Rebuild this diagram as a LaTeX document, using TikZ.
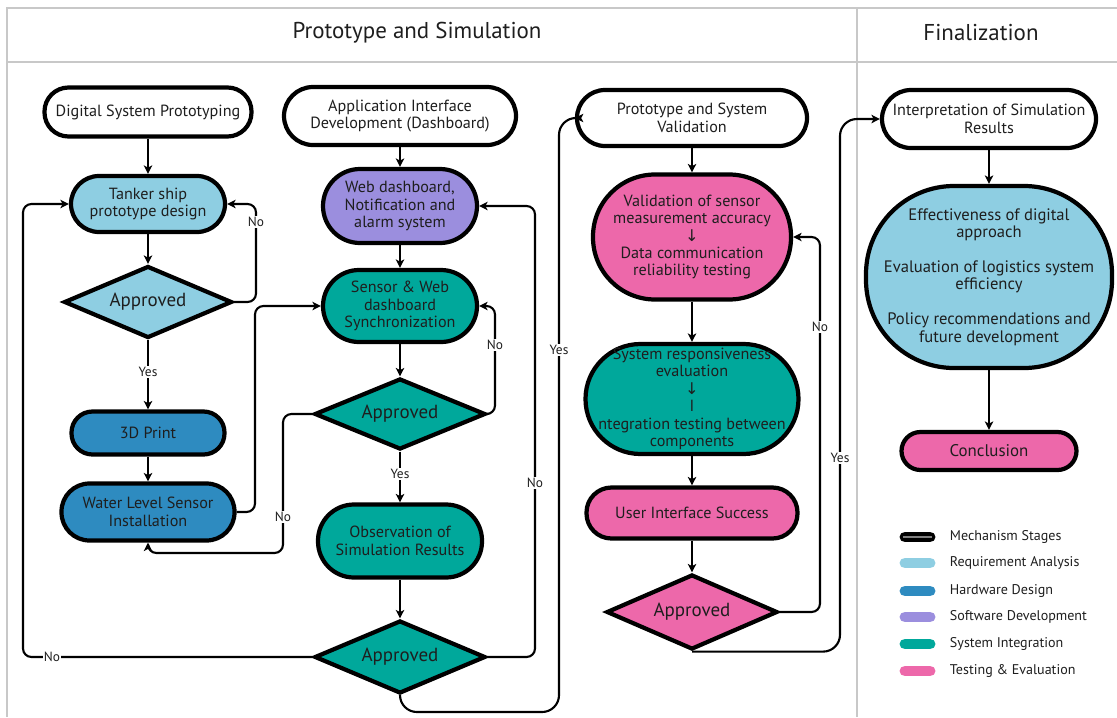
\documentclass[tikz,border=0pt]{standalone}
\usepackage{fontspec}
\setmainfont{PT Sans}
\newfontfamily\arrowfont{DejaVu Sans}
\usetikzlibrary{arrows.meta,shapes.geometric}

\definecolor{reqblue}{RGB}{142,206,226}
\definecolor{hwblue}{RGB}{46,139,192}
\definecolor{swpurple}{RGB}{155,142,222}
\definecolor{systeal}{RGB}{0,168,155}
\definecolor{testpink}{RGB}{237,104,170}
\definecolor{framegray}{RGB}{200,200,200}
\definecolor{ink}{RGB}{30,30,30}

\newcommand{\stagefont}{\fontsize{11.5}{12.4}\selectfont}
\newcommand{\decfont}{\fontsize{13.5}{15}\selectfont}
\newcommand{\tagfont}{\fontsize{9.5}{11}\selectfont}
\newcommand{\legfont}{\fontsize{10}{11}\selectfont}
\newcommand{\headfont}{\fontsize{16.3}{18}\selectfont}
\newcommand{\darr}{{\arrowfont ↓}}

\begin{document}
\begin{tikzpicture}[x=0.025cm,y=-0.025cm,
    stage/.style n args={3}{draw=black,line width=3pt,text=ink,font=\stagefont,
        align=center,inner sep=0pt,minimum width=#1*0.025cm,
        minimum height=#2*0.025cm,rounded corners=#3*0.025cm},
    decide/.style 2 args={draw=black,line width=3pt,diamond,aspect=2.4,text=ink,
        font=\decfont,inner sep=0pt,minimum width=#1*0.025cm,minimum height=#2*0.025cm},
    flow/.style={line width=1.5pt,rounded corners=6pt,
        -{Stealth[length=6pt,width=6pt,inset=1.5pt]}},
    tag/.style={fill=white,inner sep=1pt,text=ink,font=\tagfont}]
\useasboundingbox (0,0) rectangle (1117,717);

% frame and headings
\draw[framegray,line width=1.4pt] (1117,8) -- (7,8) -- (7,717);
\draw[framegray,line width=1.4pt] (7,62) -- (1117,62);
\draw[framegray,line width=1.4pt] (857,8) -- (857,717);
\node[text=ink,font=\headfont] (hdproto) at (417,33) {Prototype and Simulation};
\node[text=ink,font=\headfont] (hdfinal) at (981,33) {Finalization};

% digital system prototyping
\node[stage={207}{49}{24},fill=white] (dsp) at (148,112) {Digital System Prototyping};
\node[stage={154}{56}{28},fill=reqblue] (tank) at (148,204) {Tanker ship\\prototype design};
\node[decide={168}{72},fill=reqblue] (ap1) at (148,302) {Approved};
\node[stage={153}{43}{21},fill=hwblue] (print) at (148,433) {3D Print};
\node[stage={173}{57}{28},fill=hwblue] (water) at (148,512) {Water Level Sensor\\Installation};

% application interface
\node[stage={232}{58}{29},fill=white] (aid) at (400,116) {Application Interface\\Development (Dashboard)};
\node[stage={154}{74}{37},fill=swpurple] (web) at (400,206) {Web dashboard,\\Notification and\\alarm system};
\node[stage={154}{72}{36},fill=systeal] (sync) at (400,306) {Sensor \& Web\\dashboard\\Synchronization};
\node[decide={171}{71},fill=systeal] (ap2) at (400,414) {Approved};
\node[stage={164}{73}{36},fill=systeal] (obs) at (400,541) {Observation of\\Simulation Results};
\node[decide={171}{73},fill=systeal] (ap3) at (400,657) {Approved};

% validation
\node[stage={230}{56}{28},fill=white] (psv) at (692,118) {Prototype and System\\Validation};
\node[stage={198}{125}{62},fill=testpink] (valid) at (692,237) {Validation of sensor\\measurement accuracy\\\darr\\Data communication\\reliability testing};
\node[stage={213}{110}{55},fill=systeal] (sysr) at (692,399) {System responsiveness\\evaluation\\\darr\\I\\ntegration testing between\\components};
\node[stage={211}{51}{25},fill=testpink] (uis) at (692,513) {User Interface Success};
\node[decide={171}{75},fill=testpink] (ap4) at (692,612) {Approved};

% finalization
\node[stage={214}{58}{29},fill=white] (isr) at (989,119) {Interpretation of Simulation\\Results};
\node[stage={246}{182}{88},fill=reqblue,font=\fontsize{11.8}{12.4}\selectfont] (big) at (989,277)
    {Effectiveness of digital\\approach\\[12.5pt]Evaluation of logistics system\\efficiency\\[12.5pt]Policy recommendations and\\future development};
\node[stage={175}{38}{19},fill=testpink,font=\fontsize{12}{13}\selectfont] (concl) at (989,451) {Conclusion};

% straight flow
\draw[flow] (dsp) -- (tank);
\draw[flow] (tank) -- (ap1);
\draw[flow] (ap1) -- (print);
\draw[flow] (print) -- (water);
\draw[flow] (aid) -- (web);
\draw[flow] (web) -- (sync);
\draw[flow] (sync) -- (ap2);
\draw[flow] (ap2) -- (obs);
\draw[flow] (obs) -- (ap3);
\draw[flow] (psv) -- (valid);
\draw[flow] (valid) -- (sysr);
\draw[flow] (sysr) -- (uis);
\draw[flow] (uis) -- (ap4);
\draw[flow] (isr) -- (big);
\draw[flow] (big) -- (concl);

% loops
\draw[flow] (ap1.east) -| (256,204) -- (tank.east);
\draw[flow] (water.east) -| (255,306) -- (sync.west);
\draw[flow] (ap2.west) -| (283,553) -| (water.south);
\draw[flow] (ap3.west) -| (23,204) -- (tank.west);
\draw[flow] (ap2.east) -| (495,306) -- (sync.east);
\draw[flow] (ap3.east) -| (535,206) -- (web.east);
\draw[flow,rounded corners=12pt] (ap3.south) |- (559,712) |- (psv.west);
\draw[flow] (ap4.east) -| (820,237) -- (valid.east);
\draw[flow,rounded corners=12pt] (ap4.south) -| (840,119) -- (isr.west);

% labels on the lines
\node[tag] (no1) at (256,222) {No};
\node[tag] (yes1) at (148,372) {Yes};
\node[tag] (no2) at (283,517) {No};
\node[tag] (no3) at (52,657) {No};
\node[tag] (no4) at (495,345) {No};
\node[tag] (yes2) at (400,474) {Yes};
\node[tag] (no5) at (535,483) {No};
\node[tag] (yes3) at (559,350) {Yes};
\node[tag] (no6) at (820,327) {No};
\node[tag] (yes4) at (840,458) {Yes};

% legend
\draw[line width=7.8pt,line cap=round] (905,537) -- (930,537);
\draw[gray,line width=1pt] (903,537) -- (932,537);
\node[anchor=west,text=ink,font=\legfont] (leg0) at (945,537) {Mechanism Stages};
\foreach \col/\txt/\yy [count=\i] in {reqblue/Requirement Analysis/563,
    hwblue/Hardware Design/591,swpurple/Software Development/617,
    systeal/System Integration/644,testpink/Testing \& Evaluation/671}{
  \draw[\col,line width=7.8pt,line cap=round] (905,\yy) -- (930,\yy);
  \node[anchor=west,text=ink,font=\legfont] (leg\i) at (945,\yy) {\txt};
}
\end{tikzpicture}
\end{document}
